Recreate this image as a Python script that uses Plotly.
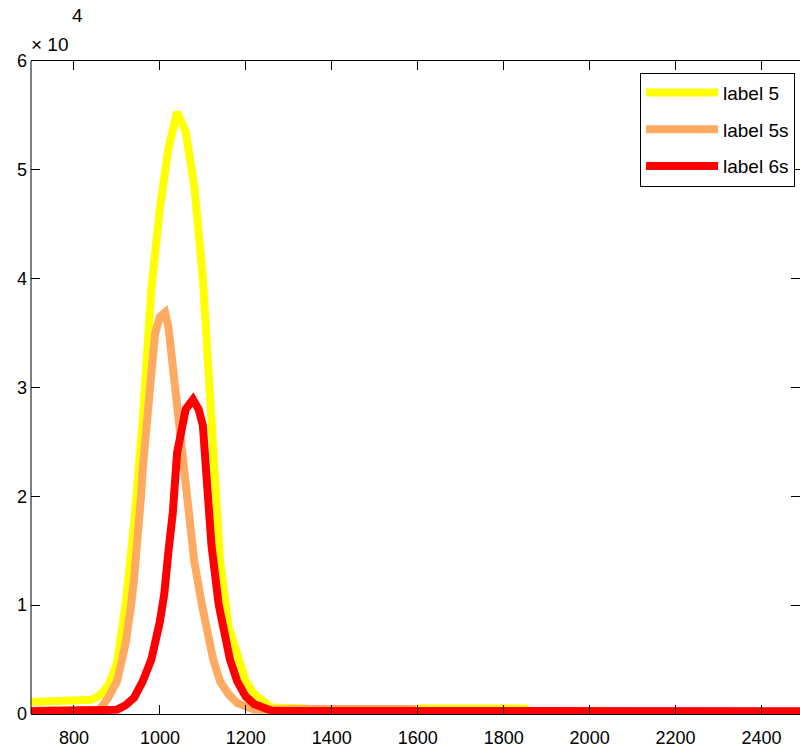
import plotly.graph_objects as go

# Spectral counts per channel for three runs
x_label5 = [700, 720, 760, 800, 840, 860, 880, 900, 920, 940, 960, 980, 1000, 1020,
            1040, 1060, 1080, 1100, 1120, 1140, 1160, 1180, 1200, 1220, 1240, 1260,
            1340, 1350, 1590, 1600, 1850, 1860, 2500]
y_label5 = [1100, 1150, 1150, 1200, 1300, 1700, 2600, 4700, 10000, 17500, 27000, 39000,
            46500, 52000, 55300, 53500, 48500, 40000, 27000, 14000, 8000, 5200, 3000,
            1800, 1100, 600, 500, 300, 300, 500, 500, 100, 100]

x_label5s = [700, 860, 880, 900, 912, 920, 933, 940, 956, 960, 977, 989, 1000, 1012,
             1020, 1035, 1047, 1063, 1080, 1098, 1124, 1140, 1160, 1180, 1200, 1220,
             1340, 1590, 1600, 2500]
y_label5s = [300, 400, 1500, 3000, 5000, 6500, 10000, 12500, 20000, 22500, 30000, 35000,
             36500, 36900, 35500, 30000, 25500, 20000, 14000, 10000, 5000, 3000, 1800,
             1000, 600, 400, 450, 450, 200, 200]

x_label6s = [700, 880, 900, 920, 940, 960, 980, 1000, 1010, 1020, 1030, 1040, 1050,
             1060, 1077, 1090, 1100, 1110, 1120, 1137, 1150, 1163, 1180, 1200, 1220,
             1240, 1260, 2500]
y_label6s = [250, 300, 400, 800, 1500, 3000, 5000, 8500, 11000, 15000, 18500, 24000,
             26500, 28000, 28900, 28000, 26500, 21000, 15500, 10000, 7000, 5000, 3000,
             1600, 900, 500, 300, 250]

series_names = ["label 5", "label 5s", "label 6s"]
series_colors = ["#FFFF00", "#FFAA60", "#FF0000"]

x_ticks = [800, 1000, 1200, 1400, 1600, 1800, 2000, 2200, 2400]
y_ticks = [0, 10000, 20000, 30000, 40000, 50000, 60000]
y_tick_text = ["0", "1", "2", "3", "4", "5", "6"]

FONT = "Liberation Sans, Arial, Helvetica, sans-serif"

fig = go.Figure()
for i, (xs, ys) in enumerate([(x_label5, y_label5), (x_label5s, y_label5s),
                              (x_label6s, y_label6s)]):
    fig.add_trace(go.Scatter(
        x=xs, y=ys, mode="lines", name=series_names[i],
        legendgroup=series_names[i],
        line=dict(color=series_colors[i], width=8),
    ))

fig.update_layout(
    width=800, height=750,
    margin=dict(l=31, r=0, t=61, b=36),
    paper_bgcolor="white", plot_bgcolor="white",
    font=dict(family=FONT, size=18, color="black"),
    showlegend=True,
    legend=dict(
        x=0.9935, y=0.982, xanchor="right", yanchor="top",
        bgcolor="white", bordercolor="black", borderwidth=1,
        font=dict(family=FONT, size=19, color="black"),
        tracegroupgap=9, itemwidth=72,
    ),
    xaxis=dict(
        range=[700, 2489.6], tickvals=x_ticks, ticktext=[str(v) for v in x_ticks],
        ticks="inside", ticklen=9, tickcolor="black", ticklabelstandoff=7,
        showline=True, linecolor="black", linewidth=1, mirror="ticks",
        showgrid=False, zeroline=False,
    ),
    yaxis=dict(
        range=[0, 60000], tickvals=y_ticks, ticktext=y_tick_text,
        ticks="inside", ticklen=9, tickcolor="black", ticklabelstandoff=3,
        showline=False, mirror="ticks",
        showgrid=False, zeroline=False,
    ),
    shapes=[dict(type="line", xref="paper", yref="paper", x0=0, x1=0, y0=0, y1=1,
                 line=dict(color="black", width=1))],
    annotations=[
        dict(text="× 10", xref="paper", yref="paper", x=0, y=1.0, xshift=-2, yshift=17,
             xanchor="left", yanchor="middle", showarrow=False,
             font=dict(family=FONT, size=19, color="black")),
        dict(text="4", xref="paper", yref="paper", x=0, y=1.0, xshift=39, yshift=46,
             xanchor="left", yanchor="middle", showarrow=False,
             font=dict(family=FONT, size=19, color="black")),
    ],
)

fig.write_html("out.html")
